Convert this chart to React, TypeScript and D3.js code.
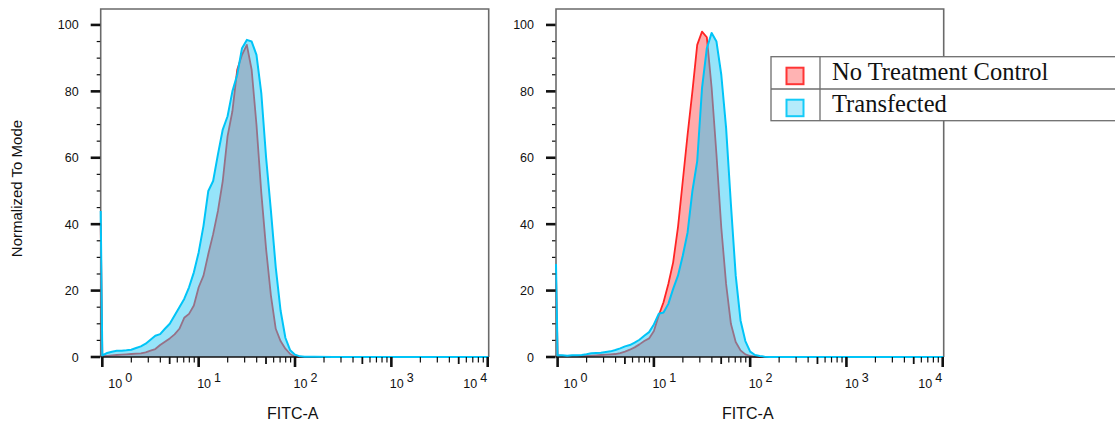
import { useEffect, useRef } from 'react';
import * as d3 from 'd3';

// FITC-A channel bins (first one is the left edge of the axis)
const fitcBins = [
  0.962, 1, 1.122, 1.259, 1.413, 1.585, 1.778, 1.995, 2.239, 2.512, 2.818,
  3.162, 3.548, 3.981, 4.467, 5.012, 5.623, 6.31, 7.079, 7.943, 8.913,
  10, 11.22, 12.59, 14.13, 15.85, 17.78, 19.95, 22.39, 25.12, 28.18,
  31.62, 35.48, 39.81, 44.67, 50.12, 56.23, 63.1, 70.79, 79.43, 89.13,
  100, 112.2, 125.9, 141.3, 158.5,
  251.2, 1000, 3981, 10240,
];

// left panel, normalized to mode (%)
const leftControl = [
  40,
  0.3, 0.3, 0.5, 0.6, 0.7, 0.8, 0.9, 1.0, 1.1, 1.4,
  1.9, 2.4, 3.6, 4.6, 5.6, 6.8, 8.5, 11.8, 13.0, 15.5,
  21.0, 24.5, 31.0, 37.0, 44.0, 53.0, 66.5, 74.0, 86.5, 91.0,
  94.0, 86.5, 70.0, 49.5, 32.5, 18.5, 8.5, 4.8, 2.5, 0.9,
  0.1, 0, 0, 0, 0,
  0, 0, 0, 0,
];
const leftTransfected = [
  44,
  0.5, 1.2, 1.6, 1.9, 1.9, 2.0, 2.2, 2.7, 3.2, 4.0,
  5.2, 6.4, 6.9, 8.5, 10.0, 12.5, 15.0, 17.5, 21.0, 25.5,
  31.5, 39.5, 50.0, 53.0, 61.0, 68.5, 72.5, 80.0, 85.0, 93.0,
  95.5, 95.0, 91.0, 79.5, 60.0, 44.0, 27.0, 14.0, 5.8, 2.0,
  0.7, 0.2, 0.1, 0.1, 0.1,
  0, 0, 0, 0,
];

// right panel
const rightControl = [
  25,
  0.5, 0.3, 0.3, 0.3, 0.3, 0.3, 0.3, 0.4, 0.5, 0.6,
  0.7, 0.8, 0.9, 1.2, 1.6, 2.2, 2.9, 3.8, 4.8, 5.6,
  7.8, 12.5, 16.5, 22.0, 28.5, 39.0, 53.0, 67.0, 80.0, 94.0,
  98.0, 96.3, 81.0, 61.0, 39.0, 22.0, 10.0, 4.5, 2.0, 0.8,
  0.3, 0.1, 0, 0, 0,
  0, 0, 0, 0,
];
const rightTransfected = [
  28,
  0.5, 0.5, 0.4, 0.5, 0.5, 0.6, 0.8, 1.1, 1.2, 1.3,
  1.5, 1.7, 2.1, 2.6, 3.2, 3.6, 4.3, 5.2, 6.4, 7.5,
  9.8, 13.0, 13.4, 16.0, 20.5, 24.5, 30.5, 37.5, 50.0, 59.0,
  81.0, 93.0, 97.6, 95.0, 85.0, 69.0, 46.0, 24.5, 11.0, 4.8,
  1.6, 0.6, 0.3, 0.1, 0,
  0, 0, 0, 0,
];

const yTicks = [0, 20, 40, 60, 80, 100];
const decadeTicks = [1, 10, 100, 1000, 10000];
const decadeExponents = ['0', '1', '2', '3', '4'];
const legendLabels = ['No Treatment Control', 'Transfected'];

const SANS = "'Liberation Sans', Arial, Helvetica, sans-serif";
const SERIF = "'Liberation Serif', 'Times New Roman', serif";

const App = () => {
  const svgRef = useRef<SVGSVGElement>(null);

  useEffect(() => {
    const svg = d3.select(svgRef.current);
    svg.selectAll('*').remove();

    const top = 9;
    const bottom = 357;

    const yScale = d3.scaleLinear().domain([0, 104.8]).range([bottom, top]);

    const panels = [
      { id: 'a', left: 100.7, right: 488.7, control: leftControl, transfected: leftTransfected },
      { id: 'b', left: 556, right: 943.7, control: rightControl, transfected: rightTransfected },
    ];

    panels.forEach((p) => {
      const xScale = d3
        .scaleLog()
        .domain([fitcBins[0], fitcBins[fitcBins.length - 1]])
        .range([p.left, p.right]);

      const g = svg.append('g');

      // frame (under the curves, so the edge spike shows)
      g.append('path')
        .attr('d', `M${p.left},${bottom}V${top}H${p.right}V${bottom}`)
        .attr('fill', 'none')
        .attr('stroke', '#6a6a6a')
        .attr('stroke-width', 1.6);

      g.append('clipPath')
        .attr('id', `clip-${p.id}`)
        .append('rect')
        .attr('x', p.left - 2)
        .attr('y', top)
        .attr('width', p.right - p.left + 2)
        .attr('height', bottom - top + 2);

      const plot = g.append('g').attr('clip-path', `url(#clip-${p.id})`);

      const area = (vals: number[]) =>
        d3
          .area<number>()
          .x((_, i) => xScale(fitcBins[i]))
          .y0(yScale(0))
          .y1((d) => yScale(d))(vals);

      const line = (vals: number[]) =>
        d3
          .line<number>()
          .x((_, i) => xScale(fitcBins[i]))
          .y((d) => yScale(d))(vals);

      // control (red)
      plot.append('path')
        .attr('d', area(p.control))
        .attr('fill', 'rgba(255,0,0,0.33)');
      plot.append('path')
        .attr('d', line(p.control))
        .attr('fill', 'none')
        .attr('stroke', '#ff2424')
        .attr('stroke-width', 1.8)
        .attr('stroke-linejoin', 'round');

      // transfected (blue)
      plot.append('path')
        .attr('d', area(p.transfected))
        .attr('fill', 'rgba(36,199,245,0.48)');

      // x axis line
      g.append('line')
        .attr('x1', p.left)
        .attr('x2', p.right)
        .attr('y1', bottom)
        .attr('y2', bottom)
        .attr('stroke', '#111')
        .attr('stroke-width', 1.5);

      g.append('g')
        .attr('clip-path', `url(#clip-${p.id})`)
        .append('path')
        .attr('d', line(p.transfected))
        .attr('fill', 'none')
        .attr('stroke', '#00c4f7')
        .attr('stroke-width', 2)
        .attr('stroke-linejoin', 'round');

      // y ticks
      d3.range(0, 101, 5).forEach((v) => {
        const major = v % 20 === 0;
        g.append('line')
          .attr('x1', p.left - (major ? 10 : 4))
          .attr('x2', p.left - 0.5)
          .attr('y1', yScale(v))
          .attr('y2', yScale(v))
          .attr('stroke', '#111')
          .attr('stroke-width', major ? 2.6 : 1.2);
      });

      g.selectAll('text.ylab')
        .data(yTicks)
        .enter()
        .append('text')
        .attr('x', p.left - 22)
        .attr('y', (d) => yScale(d))
        .attr('dy', '0.36em')
        .attr('text-anchor', 'end')
        .style('font-family', SANS)
        .style('font-size', '12.5px')
        .style('fill', '#111')
        .text((d) => d);

      // x ticks
      decadeTicks.forEach((d, i) => {
        const x = xScale(d);
        g.append('line')
          .attr('x1', x)
          .attr('x2', x)
          .attr('y1', bottom)
          .attr('y2', bottom + 10)
          .attr('stroke', '#111')
          .attr('stroke-width', 2.6);

        if (i < decadeTicks.length - 1) {
          d3.range(2, 10).forEach((m) => {
            const xm = xScale(d * m);
            g.append('line')
              .attr('x1', xm)
              .attr('x2', xm)
              .attr('y1', bottom)
              .attr('y2', bottom + (m === 5 ? 7 : 5.5))
              .attr('stroke', '#111')
              .attr('stroke-width', m === 5 ? 1.8 : 1.2);
          });
        }

        const first = i === 0;
        const last = i === decadeTicks.length - 1;
        const label = g.append('text')
          .attr('x', first ? x + 6 : last ? x - 0.5 : x - 1.5)
          .attr('y', 388)
          .attr('text-anchor', last ? 'end' : 'start')
          .style('font-family', SANS)
          .style('font-size', '12.5px')
          .style('fill', '#111');
        label.append('tspan').text('10');
        label.append('tspan')
          .attr('dx', 3)
          .attr('dy', -6.5)
          .text(decadeExponents[i]);
      });

      g.append('text')
        .attr('x', (p.left + p.right) / 2 - 2)
        .attr('y', 419)
        .attr('text-anchor', 'middle')
        .style('font-family', SANS)
        .style('font-size', '16px')
        .style('fill', '#111')
        .text('FITC-A');
    });

    svg.append('text')
      .attr('transform', 'translate(21.5,188.5) rotate(-90)')
      .attr('text-anchor', 'middle')
      .style('font-family', SANS)
      .style('font-size', '15px')
      .style('fill', '#111')
      .text('Normalized To Mode');

    // legend
    const legend = svg.append('g');
    const legendColors = [
      { stroke: '#ff3535', fill: '#ffb3b3' },
      { stroke: '#14cbf8', fill: '#b5ebfb' },
    ];
    legend.append('rect')
      .attr('x', 771)
      .attr('y', 56.7)
      .attr('width', 400)
      .attr('height', 64)
      .attr('fill', '#fff')
      .attr('stroke', '#6e6e6e')
      .attr('stroke-width', 1.3);
    legend.append('line')
      .attr('x1', 771)
      .attr('x2', 1171)
      .attr('y1', 89)
      .attr('y2', 89)
      .attr('stroke', '#6e6e6e')
      .attr('stroke-width', 1.3);
    legend.append('line')
      .attr('x1', 820)
      .attr('x2', 820)
      .attr('y1', 56.7)
      .attr('y2', 120.7)
      .attr('stroke', '#6e6e6e')
      .attr('stroke-width', 1.3);

    legendLabels.forEach((name, i) => {
      const rowTop = 56.7 + i * 32;
      legend.append('rect')
        .attr('x', 786.5)
        .attr('y', rowTop + 11)
        .attr('width', 17)
        .attr('height', 16.5)
        .attr('fill', legendColors[i].fill)
        .attr('stroke', legendColors[i].stroke)
        .attr('stroke-width', 2);
      legend.append('text')
        .attr('x', 832)
        .attr('y', rowTop + 23.5)
        .style('font-family', SERIF)
        .style('font-size', '24.5px')
        .style('fill', '#111')
        .text(name);
    });
  }, []);

  return (
    <svg
      ref={svgRef}
      width={1115}
      height={424}
      style={{ position: 'absolute', left: 0, top: 0, background: '#fff' }}
    />
  );
};

export default App;
